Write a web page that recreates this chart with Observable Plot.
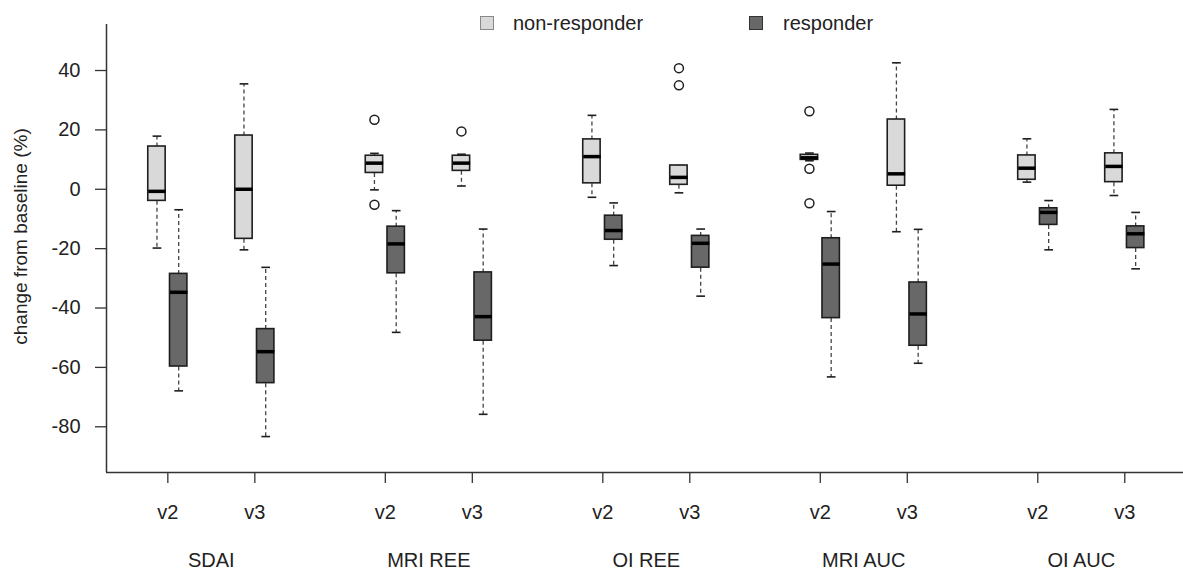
<!DOCTYPE html>
<html>
<head>
<meta charset="utf-8">
<script src="https://cdn.jsdelivr.net/npm/d3@7"></script>
<script src="https://cdn.jsdelivr.net/npm/@observablehq/plot@0.6"></script>
<style>
  body { margin: 0; background: white; }
  #wrap { position: relative; width: 1183px; height: 569px; font-family: "Liberation Sans", Arial, sans-serif; color: #222; }
  .sw { position: absolute; width: 12px; height: 12px; box-sizing: content-box; }
  .lt { position: absolute; font-size: 20px; line-height: 20px; white-space: nowrap; }
</style>
</head>
<body>
<div id="wrap">
  <div class="sw" style="left:480px; top:16px; background:#d9d9d9; border:1px solid #888;"></div>
  <div class="lt" style="left:513px; top:13px;">non-responder</div>
  <div class="sw" style="left:749px; top:16px; background:#686868; border:1px solid #333;"></div>
  <div class="lt" style="left:783px; top:13px;">responder</div>
</div>
<script>
// ---- data ----
const groups = ["SDAI", "MRI REE", "OI REE", "MRI AUC", "OI AUC"];
const visits = ["v2", "v3"];
const yTicks = [-80, -60, -40, -20, 0, 20, 40];

// order: SDAI v2, SDAI v3, MRI REE v2, MRI REE v3, OI REE v2, OI REE v3, MRI AUC v2, MRI AUC v3, OI AUC v2, OI AUC v3
const nonLo  = [-19.8, -20.4, -0.2, 1.1, -2.7, -1.2, 9.6, -14.3, 2.4, -2.1];
const nonQ1  = [-3.9, -16.7, 5.5, 6.2, 2.0, 1.5, 9.9, 1.2, 3.2, 2.4];
const nonMed = [-0.7, 0.0, 8.8, 8.8, 11.0, 4.0, 10.6, 5.2, 7.1, 7.7];
const nonQ3  = [14.4, 18.1, 11.3, 11.3, 16.8, 8.0, 11.6, 23.5, 11.4, 12.1];
const nonHi  = [17.9, 35.5, 12.1, 11.8, 24.9, 8.0, 12.2, 42.6, 17.0, 26.9];

const resLo  = [-67.9, -83.3, -48.2, -75.8, -25.7, -36.0, -63.2, -58.6, -20.4, -26.8];
const resQ1  = [-59.7, -65.3, -28.3, -51.0, -17.0, -26.4, -43.4, -52.7, -12.0, -19.8];
const resMed = [-34.7, -54.7, -18.4, -42.9, -13.9, -18.2, -25.2, -42.0, -7.8, -15.0];
const resQ3  = [-28.5, -47.1, -12.6, -28.0, -8.9, -15.7, -16.5, -31.4, -6.4, -12.5];
const resHi  = [-6.9, -26.3, -7.2, -13.4, -4.6, -13.4, -7.5, -13.5, -3.8, -7.8];

// outliers: [group, visit, series, value]
const outliers = [
  ["MRI REE", "v2", "non-responder", 23.4],
  ["MRI REE", "v2", "non-responder", -5.2],
  ["MRI REE", "v3", "non-responder", 19.5],
  ["OI REE", "v3", "non-responder", 40.8],
  ["OI REE", "v3", "non-responder", 35.0],
  ["MRI AUC", "v2", "non-responder", 26.3],
  ["MRI AUC", "v2", "non-responder", 6.9],
  ["MRI AUC", "v2", "non-responder", -4.7]
];

// ---- layout helpers ----
const groupStep = 2.5, boxOffset = 0.125, halfBox = 0.1, halfCap = 0.05;
const xDomain = [-0.705, 11.675];
const yDomain = [-95.4, 55.5];
const colors = {"non-responder": "#d9d9d9", "responder": "#686868"};
const posOf = (g, v, s) => groups.indexOf(g) * groupStep + visits.indexOf(v) + (s === "responder" ? boxOffset : -boxOffset);

const boxes = [];
groups.forEach((g, gi) => visits.forEach((v, vi) => {
  const k = gi * 2 + vi;
  boxes.push({g, v, s: "non-responder", lo: nonLo[k], q1: nonQ1[k], med: nonMed[k], q3: nonQ3[k], hi: nonHi[k]});
  boxes.push({g, v, s: "responder", lo: resLo[k], q1: resQ1[k], med: resMed[k], q3: resQ3[k], hi: resHi[k]});
}));
boxes.forEach(b => b.x = posOf(b.g, b.v, b.s));
const outs = outliers.map(([g, v, s, val]) => ({x: posOf(g, v, s), val}));

const visitTicks = [], visitLabel = new Map();
groups.forEach((g, gi) => visits.forEach((v, vi) => { const p = gi * groupStep + vi; visitTicks.push(p); visitLabel.set(p, v); }));
const groupTicks = [], groupLabel = new Map();
groups.forEach((g, gi) => { const p = gi * groupStep + 0.5; groupTicks.push(p); groupLabel.set(p, g); });

const ink = "#1e1e1e";
const chart = Plot.plot({
  width: 1183,
  height: 569,
  marginTop: 24,
  marginBottom: 97,
  marginLeft: 106,
  marginRight: 0,
  x: {domain: xDomain, axis: null},
  y: {domain: yDomain, axis: null},
  style: {fontFamily: "'Liberation Sans', Arial, sans-serif", fontSize: "20px", color: "#222", background: "white", overflow: "visible"},
  marks: [
    Plot.ruleX([xDomain[0]], {stroke: "#333", strokeWidth: 1.5}),
    Plot.ruleY([yDomain[0]], {stroke: "#333", strokeWidth: 1.5}),
    Plot.axisY({ticks: yTicks, tickSize: 11, tickPadding: 15, label: null, fontSize: 20, strokeWidth: 1.3, stroke: "#333", tickFormat: d => String(d)}),
    Plot.axisX({ticks: visitTicks, tickSize: 11, tickPadding: 21, label: null, fontSize: 20, strokeWidth: 1.3, stroke: "#333", tickFormat: d => visitLabel.get(d)}),
    Plot.axisX({ticks: groupTicks, tickSize: 0, tickPadding: 80, label: null, fontSize: 20, tickFormat: d => groupLabel.get(d)}),
    Plot.text(["change from baseline (%)"], {text: d => d, frameAnchor: "left", dx: -86, dy: -12, rotate: -90, fontSize: 19, textAnchor: "middle", fill: "#222"}),
    // whiskers
    Plot.link(boxes, {x1: "x", x2: "x", y1: "q3", y2: "hi", stroke: "#444", strokeWidth: 1.3, strokeDasharray: "4,3"}),
    Plot.link(boxes, {x1: "x", x2: "x", y1: "q1", y2: "lo", stroke: "#444", strokeWidth: 1.3, strokeDasharray: "4,3"}),
    // caps
    Plot.link(boxes, {x1: d => d.x - halfCap, x2: d => d.x + halfCap, y1: "hi", y2: "hi", stroke: ink, strokeWidth: 1.6}),
    Plot.link(boxes, {x1: d => d.x - halfCap, x2: d => d.x + halfCap, y1: "lo", y2: "lo", stroke: ink, strokeWidth: 1.6}),
    // boxes
    Plot.rect(boxes, {x1: d => d.x - halfBox, x2: d => d.x + halfBox, y1: "q1", y2: "q3", fill: d => colors[d.s], stroke: ink, strokeWidth: 1.6}),
    // medians
    Plot.link(boxes, {x1: d => d.x - halfBox, x2: d => d.x + halfBox, y1: "med", y2: "med", stroke: "#000", strokeWidth: 3.5}),
    // outliers
    Plot.dot(outs, {x: "x", y: "val", r: 4.5, stroke: ink, strokeWidth: 1.5, fill: "white"})
  ]
});
document.getElementById("wrap").prepend(chart);
</script>
</body>
</html>
